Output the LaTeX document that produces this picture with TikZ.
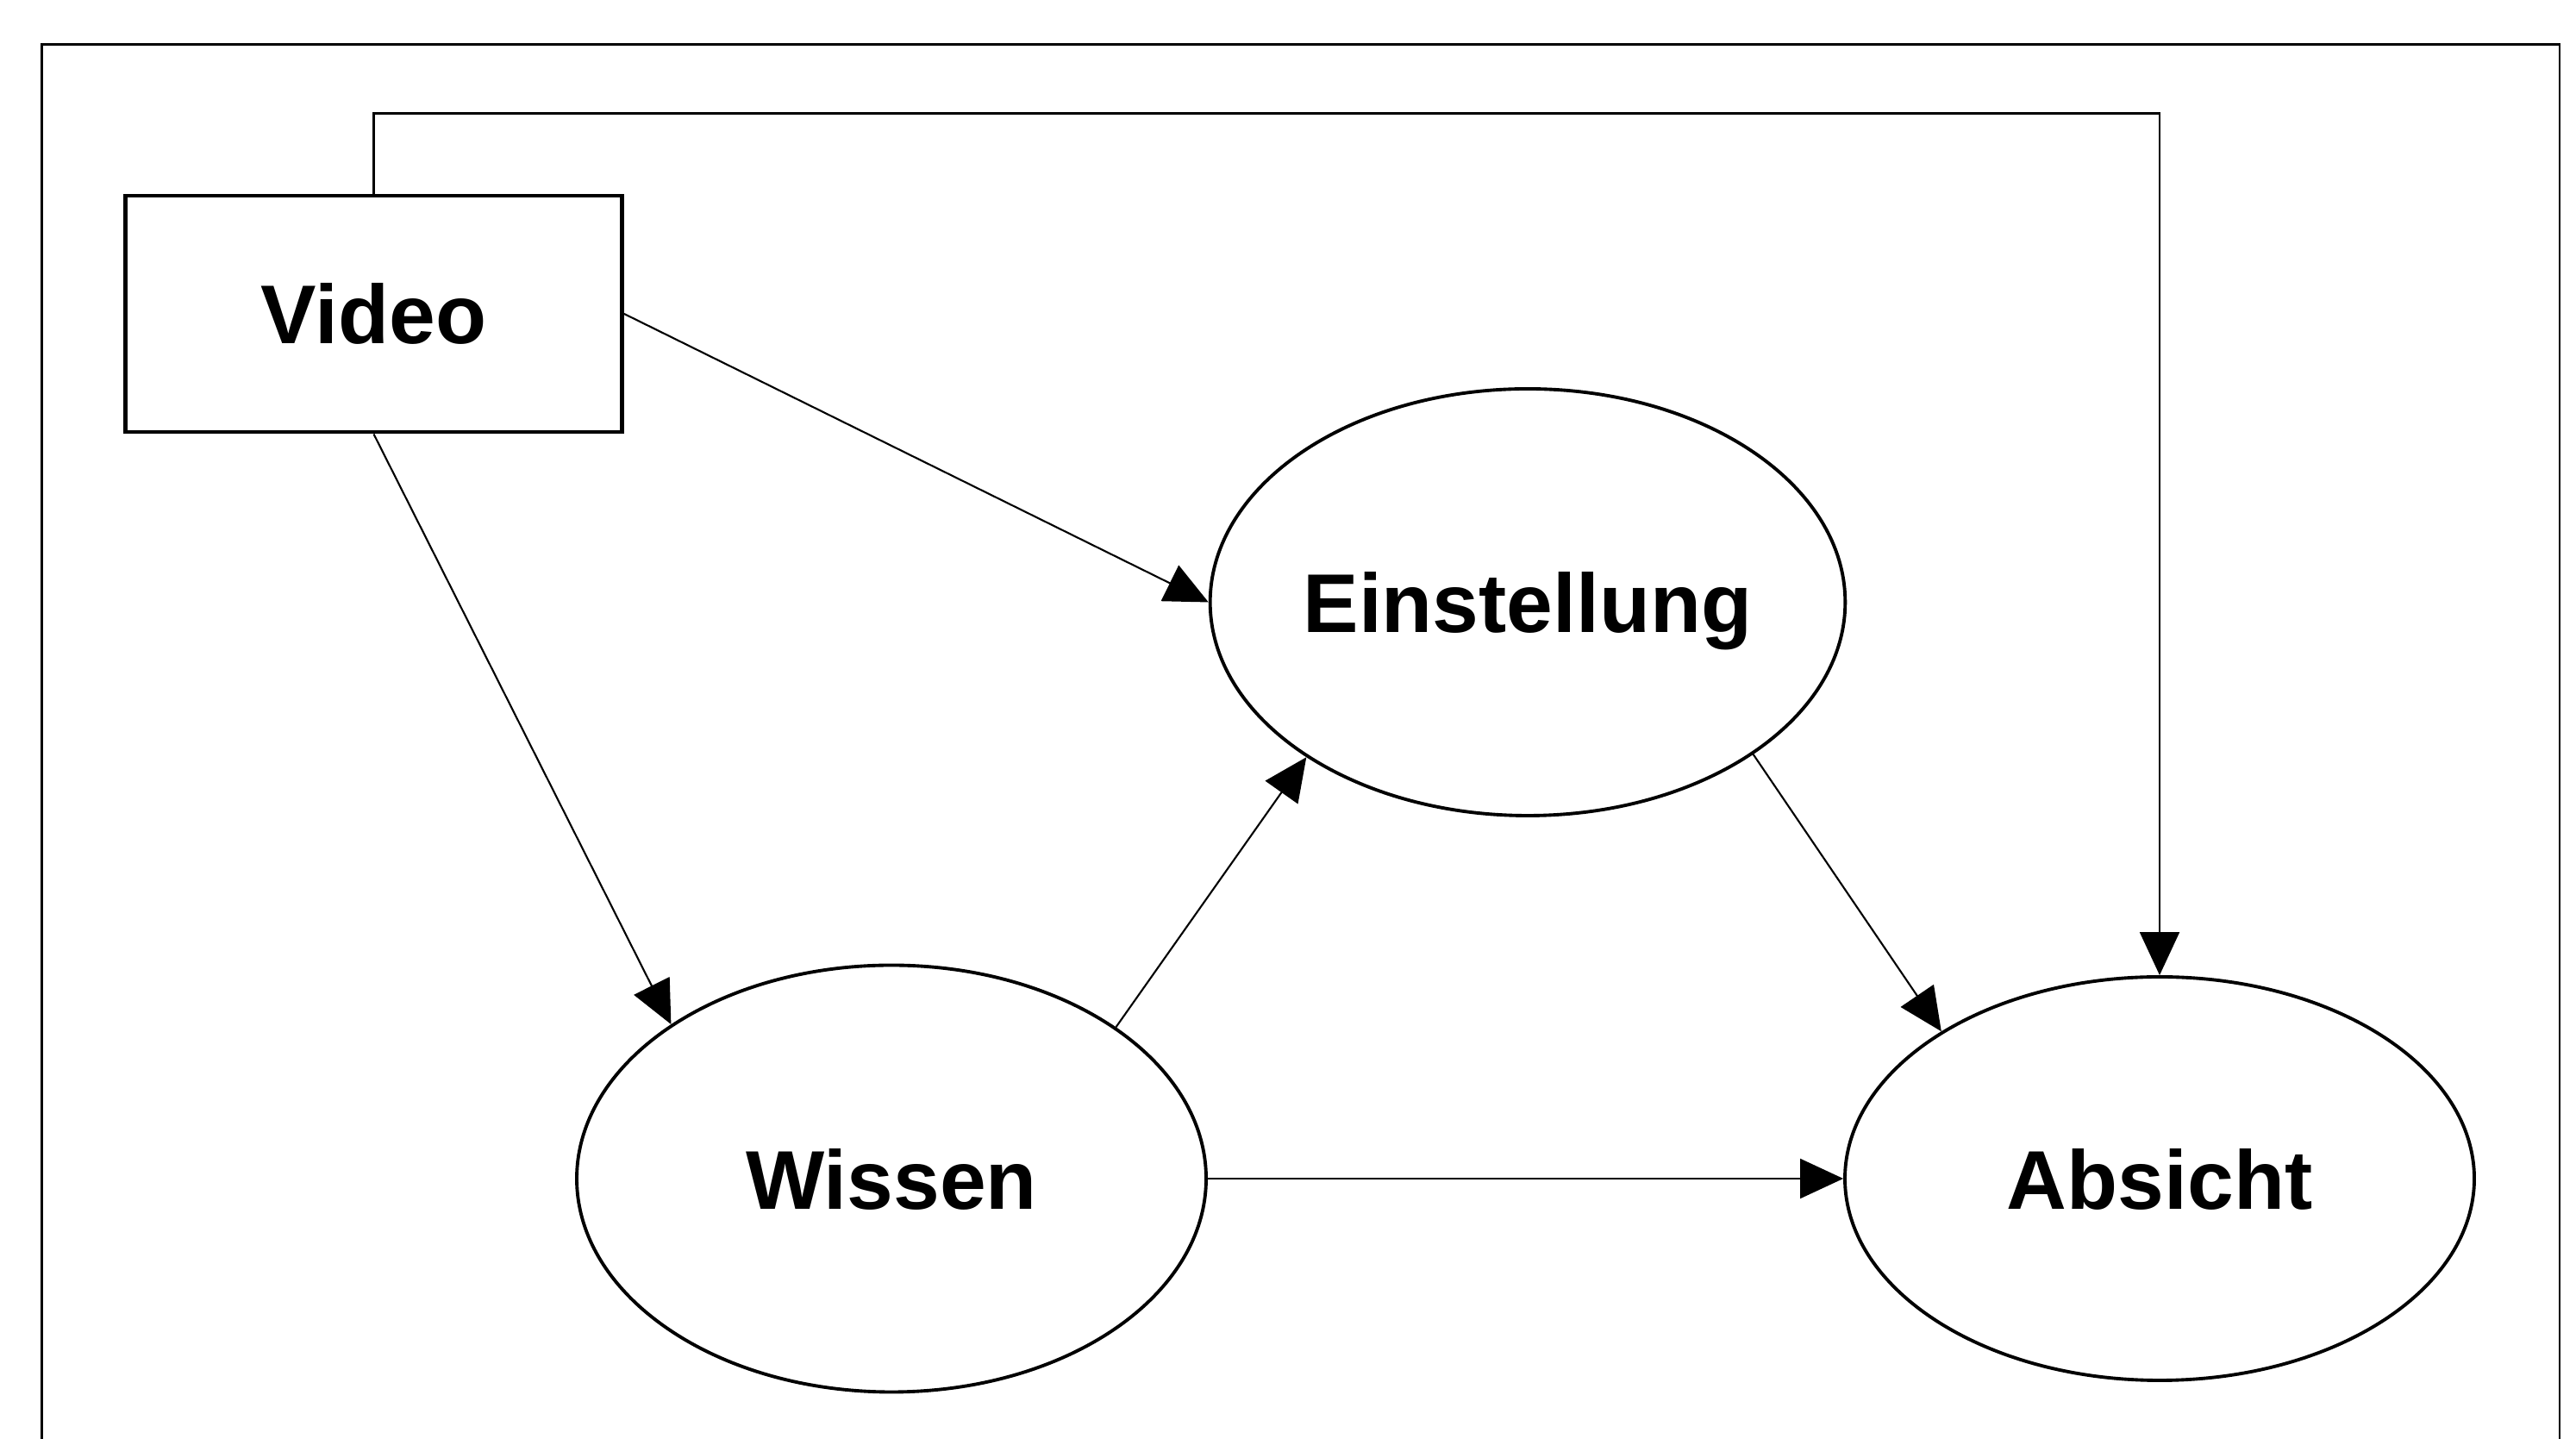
\documentclass[tikz,border=0pt]{standalone}
\usepackage{fontspec}
\setmainfont{Liberation Sans}
\usetikzlibrary{arrows.meta,shapes.geometric}

\begin{document}
\begin{tikzpicture}[
    lbl/.style={font=\fontsize{27.5}{33}\selectfont\bfseries, text depth=0pt},
    box/.style={lbl, draw, line width=1.4pt, minimum width=5.76cm, minimum height=2.74cm},
    oval/.style={lbl, draw, ellipse, line width=1.1pt, inner sep=0pt, minimum width=7.3cm, minimum height=4.95cm},
    arr/.style={-{Triangle[length=5mm,width=4.6mm]}, line width=0.6pt}
  ]
  \useasboundingbox (0,0) rectangle (29.88,16.69);

  % outer frame (open at the bottom)
  \draw[line width=0.7pt] (0.485,0) -- (0.485,16.175) -- (29.69,16.175) -- (29.69,0);

  % variables
  \node[box] (video) at (4.335,13.05) {Video};
  \node[oval] (einst) at (17.72,9.705) {Einstellung};
  \node[oval] (wissen) at (10.34,3.02) {Wissen};
  \node[oval, minimum height=4.68cm] (absicht) at (25.05,3.02) {Absicht};

  % paths
  \draw[arr] (video.south) -- (wissen.145);
  \draw[arr] (video.east) -- (einst.west);
  \draw[arr] (wissen.34) -- (einst.215);
  \draw[arr] (einst.-34) -- (absicht.146);
  \draw[arr] (wissen.east) -- (absicht.west);
  \coordinate (loop) at (0,15.375);
  \draw[arr] (video.north) -- (video.north |- loop) -| (absicht.north);
\end{tikzpicture}
\end{document}
